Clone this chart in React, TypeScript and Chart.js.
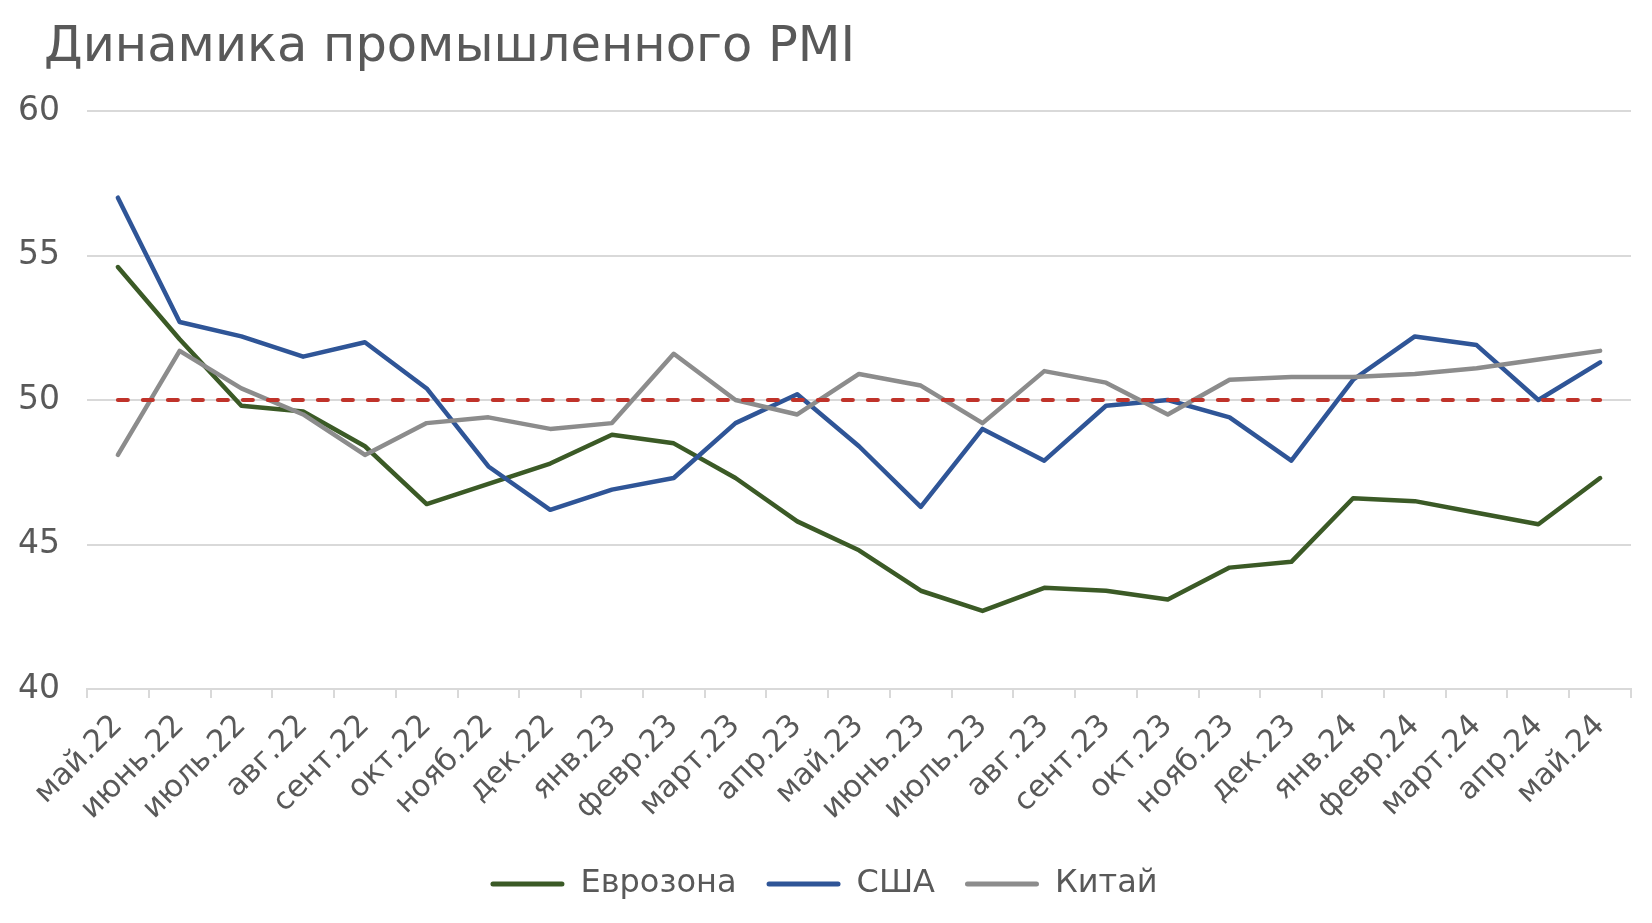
import React, { useEffect, useRef } from "react";
import { Chart, registerables } from "chart.js";

Chart.register(...registerables);

const TITLE = "Динамика промышленного PMI";
const categories = [
  "май.22", "июнь.22", "июль.22", "авг.22", "сент.22", "окт.22", "нояб.22", "дек.22",
  "янв.23", "февр.23", "март.23", "апр.23", "май.23", "июнь.23", "июль.23", "авг.23",
  "сент.23", "окт.23", "нояб.23", "дек.23", "янв.24", "февр.24", "март.24", "апр.24", "май.24",
];
const seriesNames = ["Еврозона", "США", "Китай"];
const eurozone = [54.6, 52.1, 49.8, 49.6, 48.4, 46.4, 47.1, 47.8, 48.8, 48.5, 47.3, 45.8, 44.8, 43.4, 42.7, 43.5, 43.4, 43.1, 44.2, 44.4, 46.6, 46.5, 46.1, 45.7, 47.3];
const usa = [57.0, 52.7, 52.2, 51.5, 52.0, 50.4, 47.7, 46.2, 46.9, 47.3, 49.2, 50.2, 48.4, 46.3, 49.0, 47.9, 49.8, 50.0, 49.4, 47.9, 50.7, 52.2, 51.9, 50.0, 51.3];
const china = [48.1, 51.7, 50.4, 49.5, 48.1, 49.2, 49.4, 49.0, 49.2, 51.6, 50.0, 49.5, 50.9, 50.5, 49.2, 51.0, 50.6, 49.5, 50.7, 50.8, 50.8, 50.9, 51.1, 51.4, 51.7];
const threshold = [50, 50, 50, 50, 50, 50, 50, 50, 50, 50, 50, 50, 50, 50, 50, 50, 50, 50, 50, 50, 50, 50, 50, 50, 50];
const yMin = 40;
const yMax = 60;
const yStep = 5;

const FONT = "'DejaVu Sans', sans-serif";
const TEXT = "#595959";
const GRID = "#d9d9d9";
const GREEN = "#3b5a26";
const BLUE = "#2f5597";
const GRAY = "#8c8c8c";
const RED = "#c0332a";

const titlePlugin = {
  id: "customTitle",
  afterDraw(chart: any) {
    const ctx = chart.ctx;
    ctx.save();
    ctx.font = `49.5px ${FONT}`;
    ctx.fillStyle = TEXT;
    ctx.textBaseline = "alphabetic";
    ctx.textAlign = "left";
    ctx.fillText(TITLE, 44, 61);
    ctx.restore();
  },
};

export default function App() {
  const ref = useRef<HTMLCanvasElement | null>(null);

  useEffect(() => {
    if (!ref.current) return;
    const lineDs = (label: string, data: number[], color: string, order: number) => ({
      label,
      data,
      borderColor: color,
      backgroundColor: color,
      borderWidth: 4.5,
      pointRadius: 0,
      pointHoverRadius: 0,
      tension: 0,
      borderJoinStyle: "round" as const,
      borderCapStyle: "round" as const,
      order,
    });
    const chart = new Chart(ref.current, {
      type: "line",
      data: {
        labels: categories,
        datasets: [
          lineDs(seriesNames[0], eurozone, GREEN, 4),
          lineDs(seriesNames[1], usa, BLUE, 3),
          lineDs(seriesNames[2], china, GRAY, 2),
          {
            label: "50",
            data: threshold,
            borderColor: RED,
            backgroundColor: RED,
            borderWidth: 4,
            borderDash: [10, 15],
            borderCapStyle: "round" as const,
            pointRadius: 0,
            tension: 0,
            order: 1,
          },
        ],
      },
      plugins: [titlePlugin],
      options: {
        animation: false,
        responsive: false,
        devicePixelRatio: 1,
        layout: { padding: { left: 17, right: 21, top: 111, bottom: 13 } },
        scales: {
          x: {
            offset: true,
            grid: {
              offset: true,
              drawOnChartArea: false,
              drawTicks: true,
              tickLength: 9,
              color: GRID,
              lineWidth: 2,
            },
            border: { display: true, color: GRID, width: 2 },
            ticks: {
              autoSkip: false,
              maxRotation: 45,
              minRotation: 45,
              color: TEXT,
              font: { family: FONT, size: 30.5 },
              padding: 10,
            },
            afterFit: (scale: any) => {
              scale.height = 149;
              scale.paddingLeft = 0;
              scale.paddingRight = 0;
            },
          },
          y: {
            min: yMin,
            max: yMax,
            ticks: {
              stepSize: yStep,
              color: TEXT,
              font: { family: FONT, size: 33 },
              padding: 27,
            },
            grid: { color: GRID, lineWidth: 2, drawTicks: false },
            border: { display: false },
            afterFit: (scale: any) => {
              scale.width = 70;
            },
          },
        },
        plugins: {
          title: { display: false },
          tooltip: { enabled: false },
          legend: {
            position: "bottom",
            labels: {
              boxWidth: 74,
              boxHeight: 5,
              useBorderRadius: true,
              borderRadius: 2.5,
              color: TEXT,
              font: { family: FONT, size: 32 },
              padding: 30,
              filter: (item: any) => item.datasetIndex !== 3,
              sort: (a: any, b: any) => a.datasetIndex - b.datasetIndex,
              generateLabels: (c: any) => {
                const base = Chart.defaults.plugins.legend.labels.generateLabels(c);
                return base.map((it: any) => ({
                  ...it,
                  fillStyle: c.data.datasets[it.datasetIndex].borderColor,
                  strokeStyle: c.data.datasets[it.datasetIndex].borderColor,
                  lineWidth: 0,
                  lineDash: [],
                  borderRadius: 2.5,
                }));
              },
            },
          },
        },
      },
    });
    return () => chart.destroy();
  }, []);

  return (
    <div style={{ position: "absolute", left: 0, top: 0, width: 1652, height: 923, background: "#fff" }}>
      <canvas ref={ref} width={1652} height={923} style={{ width: 1652, height: 923, display: "block" }} />
    </div>
  );
}
